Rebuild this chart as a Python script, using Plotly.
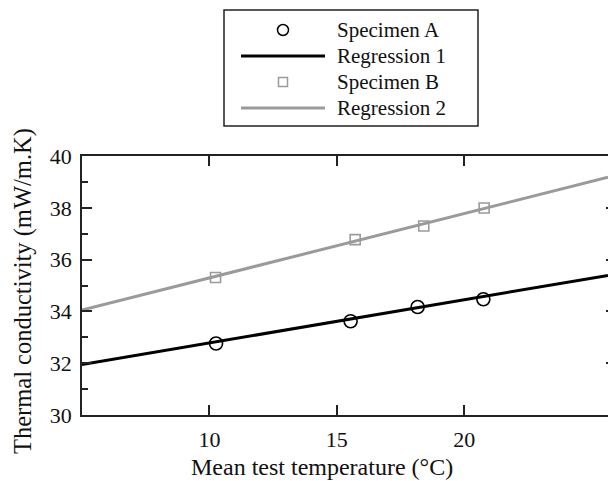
import plotly.graph_objects as go

# ---- data ----
temp_a = [10.26, 15.54, 18.17, 20.75]
k_a = [32.76, 33.62, 34.17, 34.47]
temp_b = [10.24, 15.72, 18.41, 20.78]
k_b = [35.31, 36.77, 37.30, 37.99]
reg_x = [5, 25.64]
reg1_y = [31.95, 35.39]
reg2_y = [34.05, 39.18]
legend_labels = ["Specimen A", "Regression 1", "Specimen B", "Regression 2"]
x_ticks = [10, 15, 20]

FONT = "Liberation Serif"
BLACK = "#000000"
GRAY = "#9a9a9a"
TXT = "#111111"

W, H = 608, 481
ML, MR, MT, MB = 82, 0, 156, 66
PW, PH = W - ML - MR, H - MT - MB


def px(x):
    return (x - ML) / PW


def py(y):
    return (H - MB - y) / PH


fig = go.Figure()
fig.add_trace(go.Scatter(x=reg_x, y=reg1_y, mode="lines",
                         line=dict(color=BLACK, width=3), name=legend_labels[1], showlegend=False))
fig.add_trace(go.Scatter(x=reg_x, y=reg2_y, mode="lines",
                         line=dict(color=GRAY, width=3), name=legend_labels[3], showlegend=False))
fig.add_trace(go.Scatter(x=temp_a, y=k_a, mode="markers",
                         marker=dict(symbol="circle-open", size=13, color=BLACK, line=dict(width=1.6)),
                         name=legend_labels[0], showlegend=False))
fig.add_trace(go.Scatter(x=temp_b, y=k_b, mode="markers",
                         marker=dict(symbol="square-open", size=10, color=GRAY, line=dict(width=1.6)),
                         name=legend_labels[2], showlegend=False))
# right-side mirrored ticks (axis line itself is off-screen in the reference)
fig.add_trace(go.Scatter(x=[None], y=[None], yaxis="y2", showlegend=False, hoverinfo="skip"))

shapes = []
annotations = []
# legend box
shapes.append(dict(type="rect", xref="paper", yref="paper",
                   x0=px(224), x1=px(478), y0=py(126), y1=py(10),
                   line=dict(color="#222222", width=1.5), fillcolor="white"))
rows = [30, 56, 82, 108]
for i, (lab, r) in enumerate(zip(legend_labels, rows)):
    if i == 0:
        shapes.append(dict(type="circle", xref="paper", yref="paper",
                           xsizemode="pixel", ysizemode="pixel",
                           xanchor=px(283), yanchor=py(r), x0=-5.5, x1=5.5, y0=-5.5, y1=5.5,
                           line=dict(color=BLACK, width=1.5)))
    elif i == 2:
        shapes.append(dict(type="rect", xref="paper", yref="paper",
                           xsizemode="pixel", ysizemode="pixel",
                           xanchor=px(283), yanchor=py(r), x0=-4.5, x1=4.5, y0=-4.5, y1=4.5,
                           line=dict(color=GRAY, width=1.5)))
    else:
        shapes.append(dict(type="line", xref="paper", yref="paper",
                           x0=px(241), x1=px(325), y0=py(r), y1=py(r),
                           line=dict(color=BLACK if i == 1 else GRAY, width=3)))
    annotations.append(dict(text=lab, xref="paper", yref="paper", x=px(335), y=py(r),
                            xanchor="left", yanchor="middle", showarrow=False,
                            font=dict(family=FONT, size=21, color=TXT)))

# axis titles
annotations.append(dict(text="Mean test temperature (°C)", xref="paper", yref="paper",
                        x=px(322), y=py(467), xanchor="center", yanchor="middle", showarrow=False,
                        font=dict(family=FONT, size=24, color=TXT)))
annotations.append(dict(text="Thermal conductivity (mW/m.K)", xref="paper", yref="paper",
                        x=px(23), y=py(291), xanchor="center", yanchor="middle", showarrow=False,
                        textangle=-90, font=dict(family=FONT, size=24.5, color=TXT)))

fig.update_layout(
    width=W, height=H,
    margin=dict(l=ML, r=MR, t=MT, b=MB, pad=0),
    plot_bgcolor="white", paper_bgcolor="white",
    font=dict(family=FONT, size=21, color=TXT),
    showlegend=False,
    shapes=shapes, annotations=annotations,
    xaxis=dict(range=[reg_x[0], reg_x[1]], tickvals=x_ticks, ticks="inside", ticklen=10,
               tickwidth=1.5, tickcolor="#222222", showline=True, linewidth=1.5,
               linecolor="#222222", mirror="ticks", showgrid=False, zeroline=False,
               ticklabelstandoff=4, tickfont=dict(family=FONT, size=22, color=TXT)),
    yaxis=dict(range=[30, 40], dtick=2, ticks="inside", ticklen=10, tickwidth=1.5,
               tickcolor="#222222", showline=True, linewidth=1.5, linecolor="#222222",
               showgrid=False, zeroline=False, ticklabelstandoff=4,
               minor=dict(ticks="inside", dtick=1, ticklen=6, tickwidth=1.5, tickcolor="#222222"),
               tickfont=dict(family=FONT, size=22, color=TXT)),
    yaxis2=dict(overlaying="y", side="right", range=[30, 40], dtick=2, ticks="inside",
                ticklen=2, tickwidth=1.5, tickcolor="#222222", showline=False,
                showticklabels=False, showgrid=False, zeroline=False),
)

fig.write_html("out.html")
